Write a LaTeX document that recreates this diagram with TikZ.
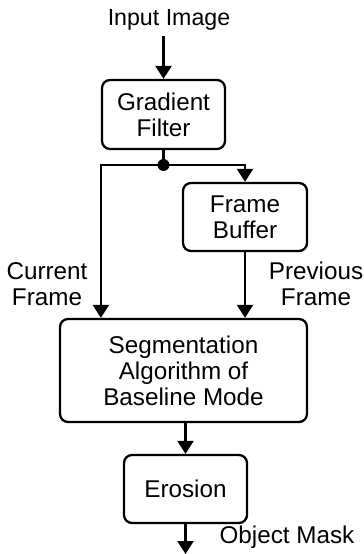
\documentclass[tikz,border=0pt]{standalone}
\usepackage{fontspec}
\setmainfont{Liberation Sans}
\usepackage{tikz}
\usetikzlibrary{arrows.meta}
\definecolor{ink}{HTML}{000000}

\begin{document}
\begin{tikzpicture}[x=0.02cm, y=-0.02cm, line width=1.3pt, ink,
    block/.style={draw, rounded corners=0.16cm, align=center, inner sep=0pt,
      font=\fontsize{13.8}{14.8}\selectfont},
    lbl/.style={align=center, font=\fontsize{13.8}{14.8}\selectfont},
    arr/.style={-{Triangle[width=0.32cm, length=0.26cm]}}]
      \useasboundingbox (0,0) rectangle (363,554);
      % Blocks
      \node[block, minimum width=2.46cm, minimum height=1.38cm] (gf) at (163.5,114.5) {Gradient\\Filter};
      \node[block, minimum width=2.48cm, minimum height=1.36cm] (fb) at (245,217) {Frame\\Buffer};
      \node[block, minimum width=4.94cm, minimum height=2.06cm] (seg) at (183.5,370.5) {Segmentation\\Algorithm of\\Baseline Mode};
      \node[block, minimum width=2.46cm, minimum height=1.36cm] (er) at (185.5,489) {Erosion};
      % Texts
      \node[lbl, font=\fontsize{13.2}{14.8}\selectfont] (in) at (169,20) {Input Image};
      \node[lbl] (cur) at (47,284) {Current\\Frame};
      \node[lbl] (prev) at (316,284) {Previous\\Frame};
      \node[lbl] (mask) at (287,537) {Object Mask};
      \coordinate (src) at (163.5,36);
      \coordinate (out) at (185.5,554);
      \coordinate (dot) at (163.5,165);
      % Connectors
      \draw[arr] (src) -- (gf.north);
      \draw (gf.south) -- (dot);
      \fill (dot) circle (0.12cm);
      \draw[arr] (dot) -| (gf.west |- seg.north);
      \draw[arr] (dot) -| (fb.north);
      \draw[arr] (fb.south) -- (fb.south |- seg.north);
      \draw[arr] (er.north |- seg.south) -- (er.north);
      \draw[arr] (er.south) -- (out);
    \end{tikzpicture}
\end{document}
